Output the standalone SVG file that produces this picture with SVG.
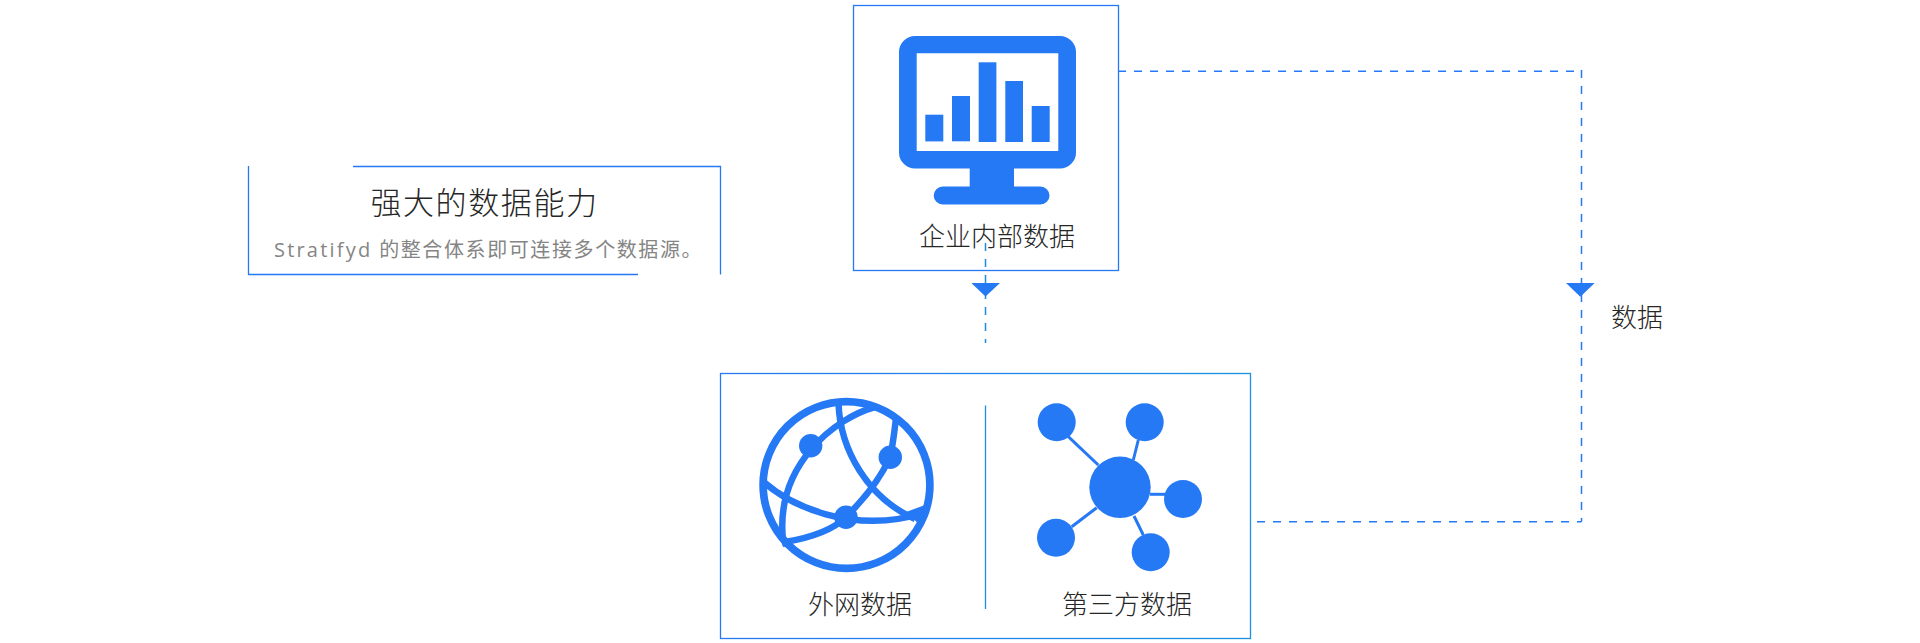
<svg xmlns="http://www.w3.org/2000/svg" width="1920" height="643" viewBox="0 0 1920 643">
<style>
text{font-family:"Noto Sans CJK SC","Open Sans",sans-serif;fill:#262626;font-weight:300}
.lbl{font-size:26px}
.box{fill:none;stroke:#2679f5;stroke-width:1.3}
.b{fill:#2679f5}
.arc{fill:none;stroke:#2679f5;stroke-width:6.5}
.ln{stroke:#2679f5;stroke-width:3}
.dash{fill:none;stroke:#2679f5;stroke-width:1.5;stroke-dasharray:8 8}
.edge{fill:none;stroke:#2679f5;stroke-width:1.3}
</style>
<defs>
<linearGradient id="g" x1="0" y1="0" x2="1" y2="0"><stop offset="0" stop-color="#2679f5"/><stop offset="1" stop-color="#1a90e0"/></linearGradient>
</defs>
<rect width="1920" height="643" fill="#fff"/>
<g id="intro">
<path class="edge" d="M353,166.500H720.500V274.500M248.500,166V274.500H638"/>
<text x="484.500" y="213.500" text-anchor="middle" font-size="31" letter-spacing="1.600">强大的数据能力</text>
<text x="274" y="257" font-size="20" letter-spacing="1.600" style="fill:#858585;font-weight:400;font-family:'Open Sans','Noto Sans CJK SC',sans-serif"><tspan letter-spacing="2.200">Stratifyd</tspan> 的整合体系即可连接多个数据源。</text>
</g>
<g id="internal-data">
<rect class="box" x="853.500" y="5.500" width="265" height="265"/>
<path class="b" fill-rule="evenodd" d="M915,36H1060a16,16 0 0 1 16,16V152.500a16,16 0 0 1 -16,16H1014V186.500H1040.500a9,9 0 0 1 0,18H942.700a9,9 0 0 1 0,-18H969.700V168.500H915a16,16 0 0 1 -16,-16V52a16,16 0 0 1 16,-16ZM916.700,53.300V151H1058.300V53.300Z"/>
<rect class="b" x="925.300" y="114.700" width="18" height="26.700"/>
<rect class="b" x="952" y="96" width="18" height="45.300"/>
<rect class="b" x="978.700" y="62.300" width="17.700" height="79.700"/>
<rect class="b" x="1005.300" y="81" width="17.700" height="61"/>
<rect class="b" x="1031.700" y="106" width="18" height="36"/>
<text class="lbl" x="919" y="246">企业内部数据</text>
</g>
<g id="external-data">
<rect x="720.500" y="373.500" width="530" height="265" fill="none" stroke="url(#g)" stroke-width="1.300"/>
<circle cx="846.500" cy="485" r="83.400" fill="none" stroke="#2679f5" stroke-width="7.700"/>
<path class="arc" d="M838.500,403C840,450 868,498 915,519"/>
<path class="arc" d="M763,481.500C790,505 850,535 925,513"/>
<path class="arc" d="M875,407C835,418 775,465 783,540"/>
<path class="arc" d="M785,542C815,537 835,528 846,517C865,498 880,480 890,457C893,445 894,435 896,418"/>
<path class="b" d="M906,512L925,505L921,526Z"/>
<path class="b" d="M780,538L788,540L792,546L783,547Z"/>
<circle class="b" cx="810.700" cy="445.700" r="11.700"/>
<circle class="b" cx="890.300" cy="457.300" r="11.700"/>
<circle class="b" cx="846" cy="517.300" r="11.700"/>
<text class="lbl" x="808" y="614">外网数据</text>
<line x1="985.500" y1="405.500" x2="985.500" y2="609" stroke="#1d8be0" stroke-width="1.300"/>
</g>
<g id="third-party-data">
<line class="ln" x1="1068.300" y1="436.700" x2="1098.300" y2="465"/>
<line class="ln" x1="1138.300" y1="440" x2="1133.300" y2="460"/>
<line class="ln" x1="1150" y1="494.300" x2="1165" y2="494.300"/>
<line class="ln" x1="1071.700" y1="526.700" x2="1096.700" y2="507.700"/>
<line class="ln" x1="1134" y1="516" x2="1143.300" y2="535"/>
<circle class="b" cx="1120" cy="487.300" r="30.700"/>
<circle class="b" cx="1056.700" cy="422.300" r="19"/>
<circle class="b" cx="1144.700" cy="422.300" r="19"/>
<circle class="b" cx="1183" cy="499" r="19"/>
<circle class="b" cx="1056" cy="537.700" r="19"/>
<circle class="b" cx="1150.700" cy="552.300" r="19"/>
<text class="lbl" x="1062" y="614">第三方数据</text>
</g>
<g id="connectors">
<path class="dash" style="stroke:#1d8be0" d="M985.500,243V343"/>
<path class="b" d="M971.300,283H1000L985.500,296.500Z"/>
<path class="dash" d="M1118,71.300H1581"/>
<path class="dash" d="M1581.500,70V521.700"/>
<path class="dash" d="M1257,521.700H1581.500"/>
<path class="b" d="M1566,283H1594.700L1580.300,296.700Z"/>
</g>
<g id="data-label"><text class="lbl" x="1611" y="327">数据</text></g>
</svg>
